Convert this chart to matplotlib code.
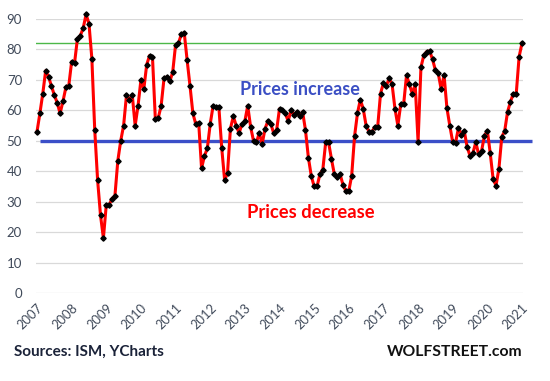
import numpy as np
import matplotlib
matplotlib.use("Agg")
from matplotlib import pyplot as plt

# ISM manufacturing prices index, monthly, Jan 2007 .. Jan 2021
y2007 = [53.0, 59.0, 65.5, 73.0, 71.0, 68.0, 65.0, 62.5, 59.0, 63.0, 67.5, 68.0]
y2008 = [76.0, 75.5, 83.5, 84.5, 87.0, 91.5, 88.5, 77.0, 53.5, 37.0, 25.5, 18.0]
y2009 = [29.0, 29.0, 31.0, 32.0, 43.5, 50.0, 55.0, 65.0, 63.5, 65.0, 55.0, 61.5]
y2010 = [70.0, 67.0, 75.0, 78.0, 77.5, 57.0, 57.5, 61.5, 70.5, 71.0, 69.5, 72.5]
y2011 = [81.5, 82.0, 85.0, 85.5, 76.5, 68.0, 59.0, 55.5, 56.0, 41.0, 45.0, 47.5]
y2012 = [55.5, 61.5, 61.0, 61.0, 47.5, 37.0, 39.5, 54.0, 58.0, 55.0, 52.5, 55.5]
y2013 = [56.5, 61.5, 54.5, 50.0, 49.5, 52.5, 49.0, 54.0, 56.5, 55.5, 52.5, 53.5]
y2014 = [60.5, 60.0, 59.0, 56.5, 60.0, 58.5, 59.5, 58.0, 59.5, 53.5, 44.5, 38.5]
y2015 = [35.0, 35.0, 39.0, 40.5, 49.5, 49.5, 44.0, 39.0, 38.0, 39.0, 35.5, 33.5]
y2016 = [33.5, 38.5, 51.5, 59.0, 63.5, 60.5, 55.0, 53.0, 53.0, 54.5, 54.5, 65.5]
y2017 = [69.0, 68.0, 70.5, 68.5, 60.5, 55.0, 62.0, 62.0, 71.5, 68.5, 65.5, 68.5]
y2018 = [49.7, 74.2, 78.1, 79.3, 79.5, 76.8, 73.2, 72.1, 66.9, 71.6, 60.7, 54.9]
y2019 = [49.6, 49.4, 54.3, 52.0, 53.2, 47.9, 45.1, 46.0, 49.5, 45.5, 46.7, 51.7]
y2020 = [53.3, 45.9, 37.4, 35.3, 40.8, 51.3, 53.2, 59.5, 62.8, 65.5, 65.4, 77.6]
y2021 = [82.1]

start_year = 2007
year_ticks = list(range(2007, 2022))
y_ticks = [0, 10, 20, 30, 40, 50, 60, 70, 80, 90]
neutral_level = 50
latest_level = 82.1

values = (y2007 + y2008 + y2009 + y2010 + y2011 + y2012 + y2013 + y2014
          + y2015 + y2016 + y2017 + y2018 + y2019 + y2020 + y2021)
dates = start_year + np.arange(len(values)) / 12.0

label_color = "#404a5a"
font = ["Lato", "DejaVu Sans"]

fig = plt.figure(figsize=(5.5, 3.81), dpi=100)
ax = fig.add_axes([36 / 550, 1 - 293 / 381, 487 / 550, 274 / 381])

ax.set_xlim(2007 - 1 / 34.6, 2021 + 1 / 34.6)
ax.set_ylim(0, 90)

ax.set_yticks(y_ticks)
ax.set_xticks(year_ticks)
ax.grid(axis="y", color="#d9d9d9", linewidth=0.9)
ax.set_axisbelow(True)
for s in ax.spines.values():
    s.set_visible(False)
ax.tick_params(length=0, colors=label_color)
ax.tick_params(axis="y", pad=10)
ax.tick_params(axis="x", pad=6)
for lab in ax.get_yticklabels():
    lab.set_fontsize(9.5)
    lab.set_family(font)
for lab in ax.get_xticklabels():
    lab.set_fontsize(9.3)
    lab.set_family(font)
    lab.set_rotation(45)
    lab.set_ha("right")
    lab.set_va("top")
    lab.set_rotation_mode("anchor")

# reference lines
ax.axhline(latest_level, color="#4cb848", linewidth=1.0, zorder=2)
ax.plot([2007.08, 2021.28], [neutral_level, neutral_level], color="#3b4fc8",
        linewidth=2.4, clip_on=False, zorder=2, solid_capstyle="butt")

ax.plot(dates, values, color="#ff0000", linewidth=2.2, zorder=3, clip_on=False)
ax.plot(dates, values, linestyle="none", marker="D", markersize=2.7,
        color="black", zorder=4, clip_on=False)

ax.text(2014.6, 66.7, "Prices increase", color="#3b4fc4", fontsize=13,
        fontweight="bold", family=font, ha="center", va="center")
ax.text(2014.9, 26.3, "Prices decrease", color="#ff0000", fontsize=13.2,
        fontweight="bold", family=font, ha="center", va="center")

fig.text(14 / 550, 1 - 352 / 381, "Sources: ISM, YCharts", color="#1a2238",
         fontsize=11, fontweight="bold", family=font, ha="left", va="center")
fig.text(522 / 550, 1 - 352 / 381, "WOLFSTREET.com", color="#111111",
         fontsize=11.3, fontweight="bold", family=font, ha="right", va="center")

fig.savefig("out.png", dpi=100)
